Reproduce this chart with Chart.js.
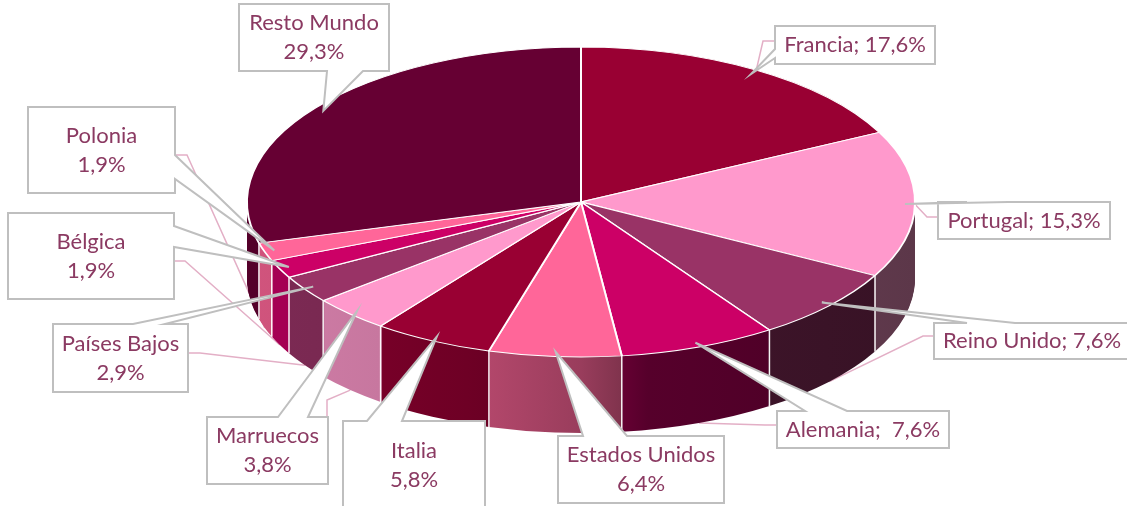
<!DOCTYPE html>
<html><head><meta charset="utf-8">
<script src="https://cdn.jsdelivr.net/npm/chart.js@4/dist/chart.umd.min.js"></script>
<style>html,body{margin:0;padding:0;background:#fff;overflow:hidden}</style>
</head><body>
<canvas id="c" width="1127" height="506"></canvas>
<script>
// ---------------- data ----------------
const categories = ["Francia","Portugal","Reino Unido","Alemania","Estados Unidos","Italia","Marruecos","Países Bajos","Bélgica","Polonia","Resto Mundo"];
const shares = [17.6,15.3,7.6,7.6,6.4,5.8,3.8,2.9,1.9,1.9,29.3];
const sliceColors = ["#990033","#FF99CC","#993366","#CC0066","#FF6699","#990033","#FF99CC","#993366","#CC0066","#FF6699","#660033"];

// ---------------- layout / style ----------------
const labelSeparator = ["; ","; ","; ",";  ","\n","\n","\n","\n","\n","\n","\n"];
const calloutBoxes = [
  {box:[775,26,160,38],  side:"left",   base:[49,58],   pink:[[775,41],[763,41]],   pinkDepth:0},
  {box:[938,202,172,37], side:"top",    base:[967,1008],pink:[[938,217],[927,217]], pinkDepth:0},
  {box:[934,323,196,36], side:"top",    base:[967,1015],pink:[[934,336],[923,336]], pinkDepth:1},
  {box:[777,411,172,37], side:"top",    base:[805,847], pink:[[777,425],[765,425]], pinkDepth:1},
  {box:[558,436,166,67], side:"top",    base:[583,627], pink:null},
  {box:[343,421,142,88], side:"top",    base:[367,402], pink:null},
  {box:[207,417,121,67], side:"top",    base:[278,308], pink:[[327,417],[327,400]], pinkDepth:1},
  {box:[53,324,135,68],  side:"top",    base:[133,165], pink:[[188,353],[200,353]], pinkDepth:1},
  {box:[8,213,166,86],   side:"right",  base:[226,247], pink:[[174,261],[185,261]], pinkDepth:1},
  {box:[28,107,147,86],  side:"right",  base:[155,179], pink:[[175,155],[187,155]], pinkDepth:1},
  {box:[239,4,150,67],   side:"bottom", base:[327,363], pink:null}
];
const PIE_CX_TARGET_Y = 202;   // ellipse centre on the page
const PIE_RX = 334, PIE_RY = 155, DEPTH = 76;
const SY = PIE_RY / PIE_RX;
const TEXT_COLOR = "#8B3A62", BOX_LINE = "#BFBFBF", PINK_LINE = "#E3AFC6";
const FONT = "22px Lato";
const shadeStops = [[0,0.82],[0.2,0.78],[0.33,0.72],[0.5,0.6],[0.56,0.5],[0.6,0.42],[1,0.36]];

function fmt(v){ return v.toFixed(1).replace(".", ",") + "%"; }
function hexRgb(h){ h=h.replace("#",""); return [parseInt(h.slice(0,2),16),parseInt(h.slice(2,4),16),parseInt(h.slice(4,6),16)]; }
function shade(h,f){ const c=hexRgb(h).map(v=>Math.round(v*f)); return `rgb(${c[0]},${c[1]},${c[2]})`; }

function geom(chart){
  const el = chart.getDatasetMeta(0).data[0];
  return {cx: el.x, cy: el.y, r: el.outerRadius};
}
function proj(g, a, r, d){
  return [g.cx + r*Math.cos(a), PIE_CX_TARGET_Y + d + r*Math.sin(a)*SY];
}
function applyT(ctx, g, d){
  ctx.translate(0, PIE_CX_TARGET_Y + d);
  ctx.scale(1, SY);
  ctx.translate(0, -g.cy);
}

const pie3d = {
  id: "pie3d",
  beforeDatasetsDraw(chart){
    const ctx = chart.ctx, g = geom(chart);
    const arcs = chart.getDatasetMeta(0).data;
    // pink leader lines (behind the pie)
    ctx.save();
    ctx.strokeStyle = PINK_LINE; ctx.lineWidth = 1.5;
    arcs.forEach((el,i)=>{
      const c = calloutBoxes[i]; if(!c.pink) return;
      const mid = (el.startAngle + el.endAngle)/2;
      const t = proj(g, mid, g.r, DEPTH*c.pinkDepth);
      ctx.beginPath(); ctx.moveTo(c.pink[0][0], c.pink[0][1]); ctx.lineTo(c.pink[1][0], c.pink[1][1]); ctx.lineTo(t[0], t[1]); ctx.stroke();
    });
    ctx.restore();
    // side walls: the library's arc elements drawn as stacked layers
    const grads = arcs.map((el,i)=>{
      const gr = ctx.createLinearGradient(g.cx - g.r, 0, g.cx + g.r, 0);
      shadeStops.forEach(s=>gr.addColorStop(s[0], shade(sliceColors[i], s[1])));
      return gr;
    });
    for(let d = DEPTH; d >= 1; d--){
      ctx.save();
      applyT(ctx, g, d);
      arcs.forEach((el,i)=>{
        const o = el.options;
        el.options = new Proxy(o, {get(t,k){ if(k==="backgroundColor") return grads[i]; if(k==="borderWidth") return 0; return t[k]; }});
        el.draw(ctx);
        el.options = o;
      });
      ctx.restore();
    }
    // wall separators
    ctx.save();
    ctx.strokeStyle = "rgba(255,255,255,0.95)"; ctx.lineWidth = 1.5;
    arcs.forEach(el=>{
      const a = el.startAngle;
      if(Math.sin(a) > 0.02){
        const p0 = proj(g, a, g.r, 0), p1 = proj(g, a, g.r, DEPTH);
        ctx.beginPath(); ctx.moveTo(p0[0], p0[1]); ctx.lineTo(p1[0], p1[1]); ctx.stroke();
      }
    });
    ctx.restore();
    // top face transform
    ctx.save();
    applyT(ctx, g, 0);
  },
  afterDatasetsDraw(chart){
    const ctx = chart.ctx;
    ctx.restore();
    const g = geom(chart);
    const arcs = chart.getDatasetMeta(0).data;
    ctx.save();
    ctx.font = FONT;
    ctx.textAlign = "center"; ctx.textBaseline = "middle";
    arcs.forEach((el,i)=>{
      const c = calloutBoxes[i];
      const [x,y,w,h] = c.box;
      const mid = (el.startAngle + el.endAngle)/2;
      const tip = proj(g, mid, g.r*0.97, 0);
      const [a,b] = c.base;
      ctx.beginPath();
      if(c.side==="top"){
        ctx.moveTo(x,y); ctx.lineTo(a,y); ctx.lineTo(tip[0],tip[1]); ctx.lineTo(b,y);
        ctx.lineTo(x+w,y); ctx.lineTo(x+w,y+h); ctx.lineTo(x,y+h);
      } else if(c.side==="bottom"){
        ctx.moveTo(x,y); ctx.lineTo(x+w,y); ctx.lineTo(x+w,y+h); ctx.lineTo(b,y+h);
        ctx.lineTo(tip[0],tip[1]); ctx.lineTo(a,y+h); ctx.lineTo(x,y+h);
      } else if(c.side==="left"){
        ctx.moveTo(x,y); ctx.lineTo(x+w,y); ctx.lineTo(x+w,y+h); ctx.lineTo(x,y+h);
        ctx.lineTo(x,b); ctx.lineTo(tip[0],tip[1]); ctx.lineTo(x,a);
      } else {
        ctx.moveTo(x,y); ctx.lineTo(x+w,y); ctx.lineTo(x+w,a); ctx.lineTo(tip[0],tip[1]);
        ctx.lineTo(x+w,b); ctx.lineTo(x+w,y+h); ctx.lineTo(x,y+h);
      }
      ctx.closePath();
      ctx.fillStyle = "#fff"; ctx.fill();
      ctx.strokeStyle = BOX_LINE; ctx.lineWidth = 2; ctx.lineJoin = "miter"; ctx.stroke();
      const txt = categories[i] + labelSeparator[i] + fmt(shares[i]);
      const lines = txt.split("\n");
      const lh = 29, cyb = y + h/2;
      ctx.fillStyle = TEXT_COLOR;
      lines.forEach((ln,k)=>{
        ctx.fillText(ln, x + w/2, cyb + (k - (lines.length-1)/2)*lh);
      });
    });
    ctx.restore();
  }
};

new Chart(document.getElementById("c"), {
  type: "pie",
  data: {
    labels: categories,
    datasets: [{
      data: shares,
      backgroundColor: sliceColors,
      borderColor: "#ffffff",
      borderWidth: 2,
      radius: PIE_RX,
      clip: false
    }]
  },
  options: {
    responsive: false,
    animation: false,
    events: [],
    radius: PIE_RX,
    layout: {padding: {left: 35, right: 0, top: 0, bottom: 0}},
    plugins: {legend: {display: false}, tooltip: {enabled: false}, title: {display: false}}
  },
  plugins: [pie3d]
});
</script>
</body></html>
